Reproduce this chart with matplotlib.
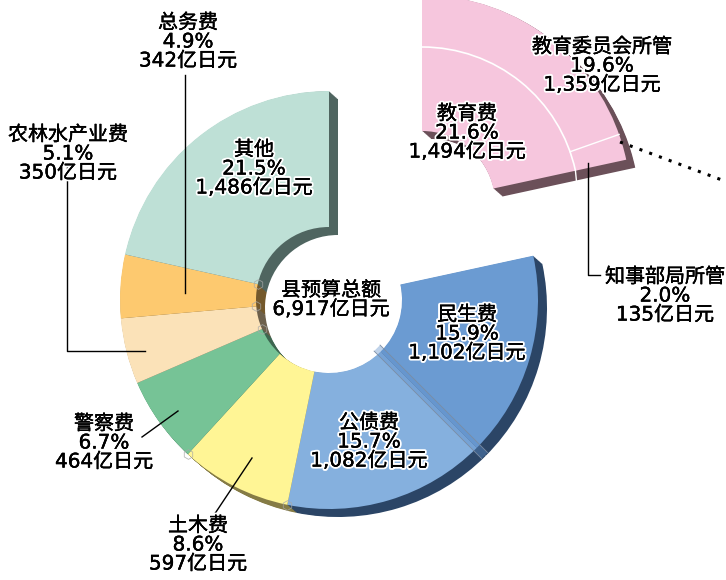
import numpy as np
import matplotlib
matplotlib.use("Agg")
import matplotlib.pyplot as plt
import matplotlib.patheffects as pe
from matplotlib.patches import Arc

plt.rcParams['font.family'] = ['DejaVu Sans', 'Noto Sans CJK JP']

# --- data (clockwise from 12 o'clock) ---
slice_names = ["教育费", "民生费", "公债费", "土木费", "警察费", "农林水产业费", "总务费", "其他"]
slice_pct = [21.6, 15.9, 15.7, 8.6, 6.7, 5.1, 4.9, 21.5]
slice_amount = ["1,494", "1,102", "1,082", "597", "464", "350", "342", "1,486"]
edu_pct = [19.6, 2.0]
edu_names = ["教育委员会所管", "知事部局所管"]
edu_amount = ["1,359", "135"]
total_name = "县预算总额"
total_amount = "6,917"

top_colors = ['none', '#6b9bd2', '#85b0de', '#fff595', '#76c396', '#fbe2b8', '#fdc96f', '#bee0d6']
side_colors = ['none', '#2b4566', '#2b4566', '#857b45', '#3d6650', '#6d604c', '#74592c', '#4f6560']
edu_top = '#f6c6dd'
edu_side = '#6b5059'

H = 580
R_OUT, R_IN, R_MID = 209, 73, 157
DEPTH = (9, 8)
main_c = (329, H - 300)
edu_c = (422, H - 204)

fig = plt.figure(figsize=(7.26, 5.8), dpi=100)
ax = fig.add_axes([0, 0, 1, 1])


def ring(ax, vals, colors, center, r_out=R_OUT, r_in=R_IN, start=90, z=2):
    wedges, _ = ax.pie(vals, colors=colors, startangle=start, counterclock=False, center=center,
                       radius=r_out, normalize=False, frame=True,
                       wedgeprops=dict(width=r_out - r_in, linewidth=0))
    for w in wedges:
        w.set_zorder(z)


fracs = [p / 100 for p in slice_pct]

# extruded sides
for i in np.linspace(1, 0.05, 12):
    dx, dy = DEPTH[0] * i, DEPTH[1] * i
    ring(ax, fracs, side_colors, (main_c[0] + dx, main_c[1] - dy), z=2)
    ring(ax, [fracs[0]], [edu_side], (edu_c[0] + dx, edu_c[1] - dy), z=2)

# top faces
ring(ax, fracs, top_colors, main_c, z=3)
ring(ax, [fracs[0]], [edu_top], edu_c, z=3)

# seam between 民生 and 公债
a = np.deg2rad(3.6 * sum(slice_pct[:2]))
sx, sy = np.sin(a), np.cos(a)
rr = np.array([R_IN - 5, R_OUT + 11])
ax.plot(main_c[0] + rr * sx, main_c[1] + rr * sy, color='#5f8fc8', alpha=0.4, lw=6, zorder=4,
        solid_capstyle='butt')
ax.plot(main_c[0] + rr * sx + 3, main_c[1] + rr * sy + 3, color='#7b8ca3', lw=0.6, zorder=4)
ax.plot(main_c[0] + rr * sx - 3, main_c[1] + rr * sy - 3, color='#7b8ca3', lw=0.6, zorder=4)

# small grey outlines left at the other slice joints
cum = np.cumsum(slice_pct)
for k, r in [(2, R_OUT), (3, R_OUT), (4, R_IN), (5, R_IN), (6, R_IN)]:
    a = np.deg2rad(3.6 * cum[k])
    ax.plot(main_c[0] + r * np.sin(a), main_c[1] + r * np.cos(a), marker='h', ms=7, mfc='none',
            mec='#a8a8a8', mew=0.6, alpha=0.8, zorder=4)

# white dividers in the education slice
end = 90 - 3.6 * slice_pct[0]
ax.add_patch(Arc(edu_c, 2 * R_MID, 2 * R_MID, theta1=end, theta2=90, color='white', lw=1.2, zorder=4))
a = np.deg2rad(3.6 * edu_pct[0])
rr = np.array([R_MID, R_OUT])
ax.plot(edu_c[0] + rr * np.sin(a), edu_c[1] + rr * np.cos(a), color='white', lw=1.0, zorder=4)
a = np.deg2rad(3.6 * slice_pct[0])
ax.plot([edu_c[0] + R_MID * np.sin(a), edu_c[0] + R_MID * np.sin(a) + 1],
        [edu_c[1] + R_MID * np.cos(a), edu_c[1] + R_MID * np.cos(a) - DEPTH[1] - 2],
        color='white', lw=1.0, zorder=4)

# leader lines
leaders = [
    ([185, 185], [75, 293]),
    ([67, 67, 145], [165, 351, 351]),
    ([142, 178], [437, 411]),
    ([214, 252], [515, 458]),
    ([588, 588, 600], [163, 275, 275]),
]
for xs, ys in leaders:
    ax.plot(xs, [H - y for y in ys], color='black', lw=1.0, zorder=5)
ax.plot([620, 730], [H - 142, H - 183], color='black', lw=2.2, ls=(0, (1, 2.4)), zorder=5)


def label(x, y, lines, size=14.4):
    ax.text(x, H - y, "\n".join(lines), ha='center', va='center', fontsize=size, linespacing=1.0,
            color='black', zorder=6,
            path_effects=[pe.withStroke(linewidth=3, foreground='white'),
                          pe.withStroke(linewidth=0.2, foreground='black')])


def amt(s):
    return s + "亿日元"


label(188, 42, [slice_names[6], f"{slice_pct[6]}%", amt(slice_amount[6])])
label(254, 169, [slice_names[7], f"{slice_pct[7]}%", amt(slice_amount[7])])
label(68, 154, [slice_names[5], f"{slice_pct[5]}%", amt(slice_amount[5])])
label(467, 334, [slice_names[1], f"{slice_pct[1]}%", amt(slice_amount[1])])
label(369, 442, [slice_names[2], f"{slice_pct[2]}%", amt(slice_amount[2])])
label(198, 545, [slice_names[3], f"{slice_pct[3]}%", amt(slice_amount[3])])
label(104, 443, [slice_names[4], f"{slice_pct[4]}%", amt(slice_amount[4])])
label(467, 133, [slice_names[0], f"{slice_pct[0]}%", amt(slice_amount[0])])
label(602, 66, [edu_names[0], f"{edu_pct[0]}%", amt(edu_amount[0])])
label(665, 296, [edu_names[1], f"{edu_pct[1]:.1f}%", amt(edu_amount[1])])
label(331, 300, [total_name, amt(total_amount)])

ax.set_aspect('auto')
ax.set_xlim(0, 726)
ax.set_ylim(0, 580)
ax.axis('off')
fig.savefig("out.png", dpi=100, facecolor='white')
